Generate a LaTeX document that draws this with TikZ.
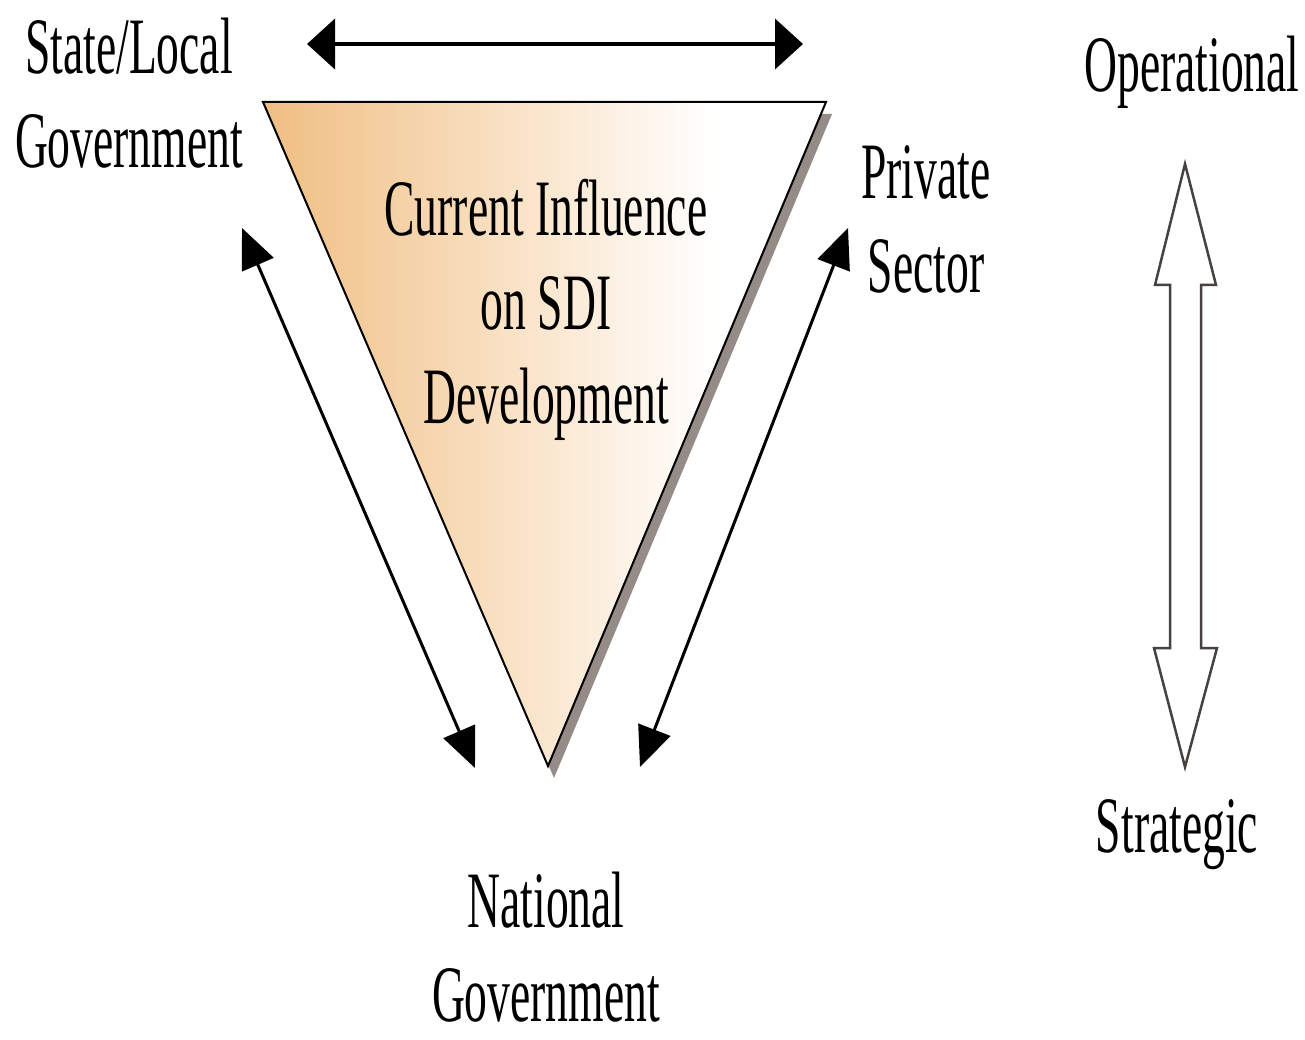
\documentclass[tikz,border=0pt]{standalone}
\usepackage{fontspec}
\setmainfont{Liberation Serif}
\usepackage{graphicx}
\usetikzlibrary{arrows.meta}
\newcommand\cnd[1]{\scalebox{0.57}[1]{#1}}
\definecolor{triL}{RGB}{239,190,130}
\definecolor{triM}{RGB}{249,224,194}
\definecolor{shadowc}{RGB}{150,140,135}
\definecolor{hollowc}{RGB}{70,66,64}
\pgfdeclarehorizontalshading{trishade}{100bp}{color(0bp)=(triL); color(25bp)=(triL); color(46bp)=(triM); color(65bp)=(white); color(100bp)=(white)}
\begin{document}
\begin{tikzpicture}[x=1pt,y=-1pt,
  lbl/.style={font=\fontsize{80}{94}\selectfont, align=center, inner sep=0pt, anchor=base},
  diag/.style={{Triangle[length=40pt,width=34pt]}-{Triangle[length=40pt,width=34pt]}, line width=3pt, black},
  topar/.style={{Triangle[length=28pt,width=50pt]}-{Triangle[length=28pt,width=50pt]}, line width=4pt, black},
  hollow/.style={draw=hollowc, line width=2.5pt, fill=white, line join=miter}]
\useasboundingbox (0,0) rectangle (1305,1040);
% coordinates
\coordinate (tl) at (263,102);
\coordinate (tr) at (826,102);
\coordinate (tb) at (548,766);
\coordinate (ha) at (307,44);
\coordinate (hb) at (803,44);
\coordinate (la) at (242,228);
\coordinate (lb) at (475,768);
\coordinate (ra) at (848,228);
\coordinate (rb) at (640,767);
% shadow and triangle
\fill[shadowc] ([shift={(6,12)}]tl) -- ([shift={(6,12)}]tr) -- ([shift={(6,12)}]tb) -- cycle;
\path[shading=trishade, draw=black, line width=2pt, line join=miter] (tl) -- (tr) -- (tb) -- cycle;
% arrows
\draw[topar] (ha) -- (hb);
\draw[diag] (la) -- (lb);
\draw[diag] (ra) -- (rb);
% hollow vertical double arrow
\draw[hollow] (1185,164) -- (1216,285) -- (1201,285) -- (1201,648) -- (1217,648) -- (1185,767)
  -- (1154,648) -- (1170,648) -- (1170,285) -- (1155,285) -- cycle;
% labels (anchor=base is the baseline of the last line)
\node[lbl] (sl) at (129,168) {\cnd{State/Local}\\\cnd{Government}};
\node[lbl] (ci) at (546,423) {\cnd{Current Influence}\\\cnd{on SDI}\\\cnd{Development}};
\node[lbl] (ng) at (546,1021) {\cnd{National}\\\cnd{Government}};
\node[lbl] (ps) at (926,293) {\cnd{Private}\\\cnd{Sector}};
\node[lbl] (op) at (1192,92) {\cnd{Operational}};
\node[lbl] (st) at (1177,852) {\cnd{Strategic}};
\end{tikzpicture}
\end{document}
